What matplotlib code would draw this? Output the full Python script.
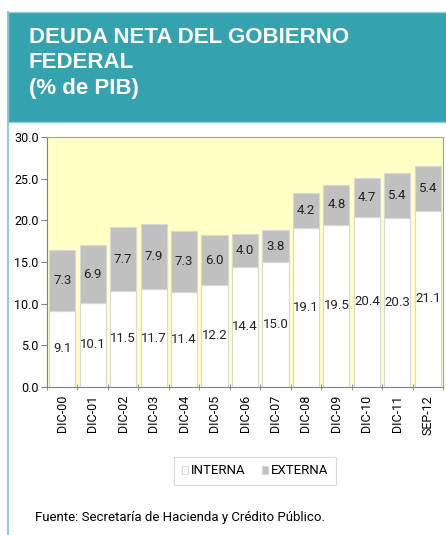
import numpy as np
import matplotlib.pyplot as plt
from matplotlib.patches import Rectangle

# Data
periodos = ['DIC-00', 'DIC-01', 'DIC-02', 'DIC-03', 'DIC-04', 'DIC-05', 'DIC-06',
            'DIC-07', 'DIC-08', 'DIC-09', 'DIC-10', 'DIC-11', 'SEP-12']
interna = [9.1, 10.1, 11.5, 11.7, 11.4, 12.2, 14.4, 15.0, 19.1, 19.5, 20.4, 20.3, 21.1]
externa = [7.3, 6.9, 7.7, 7.9, 7.3, 6.0, 4.0, 3.8, 4.2, 4.8, 4.7, 5.4, 5.4]

plt.rcParams['font.family'] = ['Roboto', 'DejaVu Sans']

teal = '#35A2AF'
fig = plt.figure(figsize=(4.46, 5.35), dpi=100)

# header box and left border
fig.add_artist(Rectangle((8 / 446, 1 - 122 / 535), 1, 110 / 535, transform=fig.transFigure,
                         facecolor=teal, edgecolor='#8FCFD6', lw=1))
fig.add_artist(plt.Line2D([8 / 446, 8 / 446], [0, 1 - 12 / 535], transform=fig.transFigure,
                          color='#7CC3CC', lw=1.2))
fig.text(29 / 446, 1 - 27 / 535,
         'DEUDA NETA DEL GOBIERNO\nFEDERAL\n(% de PIB)', color='white',
         fontsize=16, fontweight='bold', family=['Liberation Sans', 'DejaVu Sans'],
         va='top', ha='left', linespacing=1.28)

ax = fig.add_axes([47 / 446, 1 - 386.7 / 535, 396 / 446, 249.4 / 535])
ax.set_facecolor('#FFFFC6')
x = np.arange(len(periodos))
ax.bar(x, interna, width=0.86, color='white', edgecolor='#D8D8D8', lw=0.8, label='INTERNA')
ax.bar(x, externa, width=0.86, bottom=interna, color='#C0C0C0', edgecolor='#D8D8D8', lw=0.8,
       label='EXTERNA')

for i in x:
    ax.text(i, interna[i] / 2, f'{interna[i]:.1f}', ha='center', va='center', fontsize=9.5,
            color='#222222')
    ax.text(i, interna[i] + externa[i] / 2, f'{externa[i]:.1f}', ha='center', va='center',
            fontsize=9.5, color='#222222')

ax.set_xlim(-0.5, len(periodos) - 0.5)
ax.set_ylim(0, 30)
ax.set_yticks(np.arange(0, 31, 5))
ax.set_yticklabels([f'{v:.1f}' for v in np.arange(0, 31, 5)], fontsize=9)
ax.set_xticks(x)
ax.set_xticklabels(periodos, rotation=90, fontsize=9)
ax.set_xticks(np.arange(-0.5, len(periodos), 1), minor=True)
ax.tick_params(axis='x', which='major', length=0, pad=6)
ax.tick_params(axis='x', which='minor', length=4, direction='inout', color='#808080')
ax.tick_params(axis='y', length=4, color='#808080', pad=2)
for s in ['left', 'bottom']:
    ax.spines[s].set_color('#808080')
for s in ['top', 'right']:
    ax.spines[s].set_color('#A0A0A0')
    ax.spines[s].set_linewidth(0.8)

leg = fig.legend(loc='center', bbox_to_anchor=(255 / 446, 1 - 471 / 535), ncol=2, fontsize=9.5,
                 frameon=True, fancybox=False, handlelength=0.5, handleheight=0.5,
                 handletextpad=0.2, columnspacing=1.2, borderpad=0.6)
leg.get_frame().set_edgecolor('#D0D0D0')
leg.get_frame().set_linewidth(0.8)

fig.text(35 / 446, 1 - 518 / 535, 'Fuente: Secretaría de Hacienda y Crédito Público.',
         fontsize=9.5, va='center', ha='left')

fig.savefig('out.png', dpi=100)
